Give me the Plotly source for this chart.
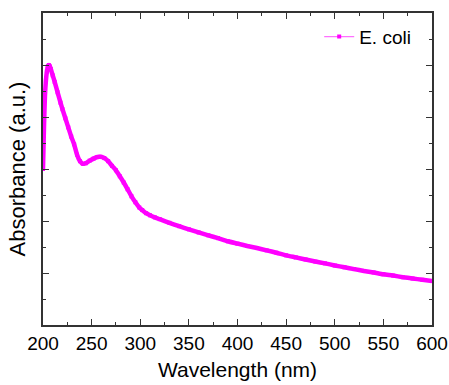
import plotly.graph_objects as go

# Wavelength (nm) and absorbance (a.u., arbitrary scale)
wavelength = [200, 201, 202, 203, 204, 205, 206, 207, 208, 210, 212, 215, 218, 220,
              223, 226, 229, 232, 235, 238, 241, 244, 248, 252, 256, 259, 263, 267,
              271, 275, 279, 283, 287, 291, 295, 299, 302, 306, 310, 315, 320, 330,
              340, 350, 360, 370, 380, 390, 400, 410, 420, 430, 440, 450, 460, 470,
              480, 490, 500, 510, 520, 530, 540, 550, 560, 570, 580, 590, 600]
absorbance = [6.0, 7.6, 8.8, 9.4, 9.75, 9.95, 10.0, 9.95, 9.85, 9.6, 9.35, 8.95, 8.55, 8.3,
              7.95, 7.6, 7.25, 6.95, 6.55, 6.3, 6.2, 6.22, 6.32, 6.4, 6.46, 6.47, 6.42, 6.3,
              6.12, 5.95, 5.72, 5.48, 5.22, 4.95, 4.72, 4.52, 4.42, 4.3, 4.22, 4.14, 4.07, 3.93,
              3.8, 3.68, 3.56, 3.45, 3.34, 3.22, 3.13, 3.04, 2.96, 2.87, 2.78, 2.68, 2.6, 2.52,
              2.44, 2.37, 2.29, 2.22, 2.15, 2.08, 2.02, 1.95, 1.9, 1.84, 1.79, 1.74, 1.69]
series_name = "E. coli"
x_ticks = [200, 250, 300, 350, 400, 450, 500, 550, 600]

MAGENTA = "#ff00ff"
AXIS = "#333333"
FONT = "Liberation Sans, Arial, sans-serif"

fig = go.Figure()
# legend entry (thin line + small square marker), drawn underneath
fig.add_trace(go.Scatter(
    x=wavelength, y=absorbance, name=series_name, mode="lines+markers",
    line=dict(color="#ff70ff", width=1.2),
    marker=dict(symbol="square", size=4, color=MAGENTA),
    showlegend=True,
))
# thick visible curve
fig.add_trace(go.Scatter(
    x=wavelength, y=absorbance, mode="lines",
    line=dict(color=MAGENTA, width=4.5, shape="spline", smoothing=0.6),
    showlegend=False, hoverinfo="skip",
))

axis_common = dict(
    showgrid=False, zeroline=False, showline=True, linecolor=AXIS, linewidth=1.5,
    mirror="ticks", ticks="inside", ticklen=6, tickwidth=1.2, tickcolor=AXIS,
    automargin=False,
)

fig.update_layout(
    width=449, height=385,
    margin=dict(l=43, r=17, t=13, b=60),
    paper_bgcolor="white", plot_bgcolor="white",
    font=dict(family=FONT, color="#000000"),
    showlegend=True,
    legend=dict(x=0.71, y=0.985, xanchor="left", yanchor="top",
                bgcolor="rgba(0,0,0,0)", font=dict(size=19, family=FONT),
                itemwidth=30),
    xaxis=dict(
        range=[200, 600], tickvals=x_ticks, ticktext=[str(v) for v in x_ticks],
        tickfont=dict(size=19, family=FONT), ticklabelstandoff=0,
        minor=dict(dtick=25, tick0=200, ticks="inside", ticklen=3, tickcolor=AXIS, tickwidth=1.2),
        title=dict(text="Wavelength (nm)", font=dict(size=21, family=FONT), standoff=10),
        **axis_common,
    ),
    yaxis=dict(
        range=[0, 12], dtick=2, tick0=0, showticklabels=False,
        minor=dict(dtick=1, tick0=0, ticks="inside", ticklen=3, tickcolor=AXIS, tickwidth=1.2),
        title=dict(text="Absorbance (a.u.)", font=dict(size=22, family=FONT), standoff=10),
        **axis_common,
    ),
)

fig.write_html("out.html", config={"displayModeBar": False},
               post_script="document.body.style.margin='0';document.body.style.overflow='hidden';")
